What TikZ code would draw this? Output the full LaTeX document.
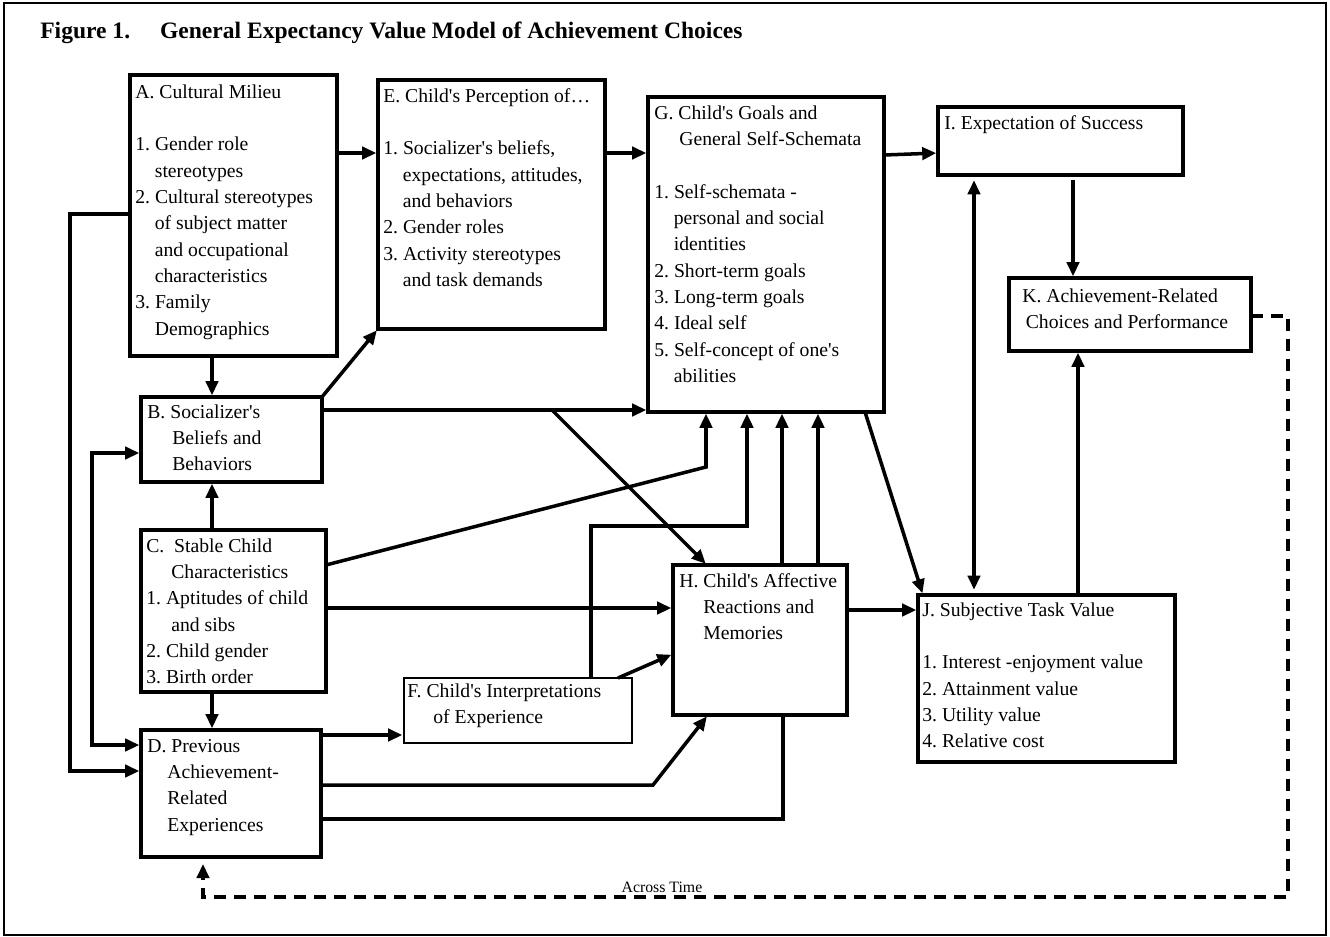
\documentclass[tikz,border=0pt]{standalone}
\usepackage{fontspec}
\setmainfont{Liberation Serif}
\usetikzlibrary{arrows.meta}

\newcommand{\boxlines}[1]{\begin{tabular}[t]{@{}l@{}}#1\end{tabular}}
\newcommand{\ind}[1]{\hspace*{#1}}
\newcommand{\q}{\textquotesingle}
\frenchspacing

\begin{document}
\begin{tikzpicture}[x=0.02cm, y=-0.02cm, >={Triangle[length=8pt,width=7pt]}]
    \tikzstyle{box}=[draw, line width=2pt, anchor=north west, inner sep=0pt, outer sep=0pt]
    \tikzstyle{thin box}=[box, line width=0.7pt]
    \tikzstyle{txt}=[anchor=base west, inner sep=0pt, font=\fontsize{11.2}{15}\selectfont]
    \tikzstyle{arr}=[->, line width=2pt, shorten >=1pt]
    \tikzstyle{both}=[<->, line width=2pt, shorten >=1pt, shorten <=1pt]
    \tikzstyle{line}=[line width=2pt]
    \tikzstyle{time}=[->, line width=2pt, dash pattern=on 0.25cm off 0.15cm, shorten >=4pt]

    \useasboundingbox (0,0) rectangle (1330,937);
    \draw[line width=1.1pt] (4,3) rectangle (1326,935);

    % Title
    \node[anchor=base west, inner sep=0pt, font=\fontsize{13.4}{16}\selectfont\bfseries] (title) at (40,38)
        {Figure 1.\hspace{0.6cm}General Expectancy Value Model of Achievement Choices};

    % Draw the boxes
    \node[box, minimum width=4.14cm, minimum height=5.62cm] (A) at (130,75) {};
    \node[box, minimum width=3.62cm, minimum height=1.70cm] (B) at (141,397) {};
    \node[box, minimum width=3.70cm, minimum height=3.24cm] (C) at (141,530) {};
    \node[box, minimum width=3.60cm, minimum height=2.54cm] (D) at (141,730) {};
    \node[box, minimum width=4.54cm, minimum height=4.98cm] (E) at (378,80) {};
    \node[thin box, minimum width=4.56cm, minimum height=1.30cm] (F) at (404,678) {};
    \node[box, minimum width=4.72cm, minimum height=6.30cm] (G) at (648,97) {};
    \node[box, minimum width=3.48cm, minimum height=3.00cm] (H) at (673,565) {};
    \node[box, minimum width=4.90cm, minimum height=1.36cm] (I) at (938,107) {};
    \node[box, minimum width=5.14cm, minimum height=3.34cm] (J) at (918,595) {};
    \node[box, minimum width=4.84cm, minimum height=1.46cm] (K) at (1009,278) {};

    % Box texts
    \node[txt] at ([shift={(5,23)}]A.north west) {\boxlines{A. Cultural Milieu\\ \\
        1. Gender role\\ \ind{0.39cm}stereotypes\\ 2. Cultural stereotypes\\
        \ind{0.39cm}of subject matter\\ \ind{0.39cm}and occupational\\
        \ind{0.39cm}characteristics\\ 3. Family\\ \ind{0.39cm}Demographics}};
    \node[txt] at ([shift={(6,21)}]B.north west) {\boxlines{B. Socializer\q s\\
        \ind{0.5cm}Beliefs and\\ \ind{0.5cm}Behaviors}};
    \node[txt] at ([shift={(5,22)}]C.north west) {\boxlines{C.\ \ Stable Child\\
        \ind{0.5cm}Characteristics\\ 1. Aptitudes of child\\ \ind{0.5cm}and sibs\\
        2. Child gender\\ 3. Birth order}};
    \node[txt] at ([shift={(6,22)}]D.north west) {\boxlines{D. Previous\\
        \ind{0.4cm}Achievement-\\ \ind{0.4cm}Related\\ \ind{0.4cm}Experiences}};
    \node[txt] at ([shift={(5,22)}]E.north west) {\boxlines{E. Child\q s Perception of\dots\\ \\
        1. Socializer\q s beliefs,\\ \ind{0.39cm}expectations, attitudes,\\
        \ind{0.39cm}and behaviors\\ 2. Gender roles\\ 3. Activity stereotypes\\
        \ind{0.39cm}and task demands}};
    \node[txt] at ([shift={(3,19)}]F.north west) {\boxlines{F. Child\q s Interpretations\\
        \ind{0.52cm}of Experience}};
    \node[txt] at ([shift={(6,22)}]G.north west) {\boxlines{G. Child\q s Goals and\\
        \ind{0.5cm}General Self-Schemata\\ \\ 1. Self-schemata -\\
        \ind{0.39cm}personal and social\\ \ind{0.39cm}identities\\ 2. Short-term goals\\
        3. Long-term goals\\ 4. Ideal self\\ 5. Self-concept of one\q s\\ \ind{0.39cm}abilities}};
    \node[txt] at ([shift={(6,22)}]H.north west) {\boxlines{H. Child\q s Affective\\
        \ind{0.48cm}Reactions and\\ \ind{0.48cm}Memories}};
    \node[txt] at ([shift={(6,22)}]I.north west) {\boxlines{I. Expectation of Success}};
    \node[txt] at ([shift={(4,21)}]J.north west) {\boxlines{J. Subjective Task Value\\ \\
        1. Interest -enjoyment value\\ 2. Attainment value\\ 3. Utility value\\ 4. Relative cost}};
    \node[txt] at ([shift={(13,24)}]K.north west) {\boxlines{K. Achievement-Related\\
        \ind{0.07cm}Choices and Performance}};

    % Connect the boxes
    \draw[arr] (A.east |- 0,153) -- (E.west |- 0,153);
    \draw[arr] (E.east |- 0,153) -- (G.west |- 0,153);
    \draw[arr] (G.east |- 0,155) -- (I.west |- 0,153);
    \draw[arr] (A.south -| 212,0) -- (B.north -| 212,0);
    \draw[arr] (B.north east) -- (E.south west);
    \draw[arr] (B.east |- 0,410) -- (G.west |- 0,410);
    \coordinate (bh) at (552,410);
    \draw[arr] (bh) -- (H.north -| 707,0);
    \draw[arr] (C.north -| 212,0) -- (B.south -| 212,0);
    \draw[arr] (C.south -| 212,0) -- (D.north -| 212,0);
    \draw[arr] (A.west |- 0,214) -- (70,214) -- (70,771) -- (D.west |- 0,771);
    \draw[both] (B.west |- 0,453) -| (92,745) -- (D.west |- 0,745);
    \draw[arr] (C.east |- 0,565) -- (706,467) -- (G.south -| 706,0);
    \draw[arr] (C.east |- 0,608) -- (H.west |- 0,608);
    \draw[arr] (D.east |- 0,735) -- (F.west |- 0,735);
    \draw[arr] (D.east |- 0,785) -- (653,785) -- (H.south -| 708,0);
    \draw[line] (D.east |- 0,819) -| (H.south -| 783,0);
    \draw[arr] (F.north -| 591,0) |- (747,526) -- (G.south -| 747,0);
    \draw[arr] (F.north -| 618,0) -- (H.west |- 0,654);
    \draw[arr] (H.north -| 782,0) -- (G.south -| 782,0);
    \draw[arr] (H.north -| 818,0) -- (G.south -| 818,0);
    \draw[arr] (H.east |- 0,610) -- (J.west |- 0,610);
    \draw[arr] (G.south -| 865,0) -- (J.north -| 923,0);
    \draw[both, shorten <=3pt, shorten >=3pt] (I.south -| 974,0) -- (J.north -| 974,0);
    \draw[arr, shorten <=3pt] (I.south -| 1073,0) -- (K.north -| 1073,0);
    \draw[arr] (J.north -| 1078,0) -- (K.south -| 1078,0);

    % Feedback across time
    \draw[time] (K.east |- 0,316) -- (1288,316) -- (1288,897)
        -- node[pos=0.577, above, inner sep=1.5pt, font=\fontsize{9}{11}\selectfont] {Across Time}
        (203,897) -- (D.south -| 203,0);
\end{tikzpicture}
\end{document}
